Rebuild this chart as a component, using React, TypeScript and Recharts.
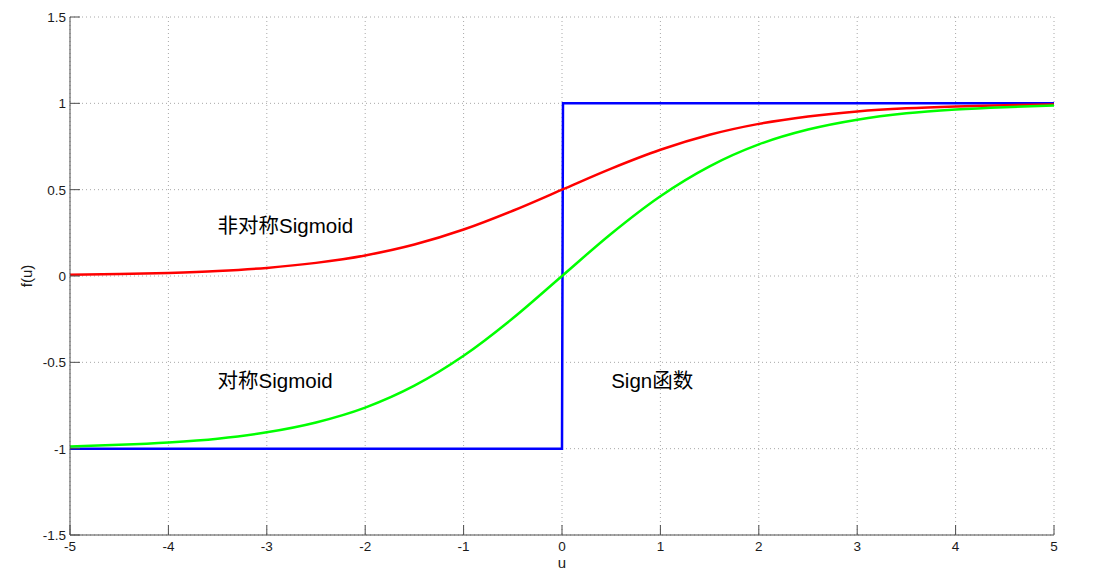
import { LineChart, Line, XAxis, YAxis, CartesianGrid, ReferenceDot, Label } from "recharts";

const uTicks = [-5, -4, -3, -2, -1, 0, 1, 2, 3, 4, 5];
const fTicks = [-1.5, -1, -0.5, 0, 0.5, 1, 1.5];

const uSamples = [-5, -4.5, -4, -3.5, -3, -2.5, -2, -1.5, -1, -0.5, 0, 0.5, 1, 1.5, 2, 2.5, 3, 3.5, 4, 4.5, 5];
const asymSigmoid = [0.007, 0.011, 0.018, 0.029, 0.047, 0.076, 0.119, 0.182, 0.269, 0.378, 0.5, 0.622, 0.731, 0.818, 0.881, 0.924, 0.953, 0.971, 0.982, 0.989, 0.993];
const symSigmoid = [-0.987, -0.978, -0.964, -0.942, -0.905, -0.848, -0.762, -0.635, -0.462, -0.245, 0, 0.245, 0.462, 0.635, 0.762, 0.848, 0.905, 0.942, 0.964, 0.978, 0.987];

const signU = [-5, 0, 0.01, 5];
const signF = [-1, -1, 1, 1];

const notes = [
  { u: -3.5, f: 0.29, text: "非对称Sigmoid" },
  { u: -3.5, f: -0.61, text: "对称Sigmoid" },
  { u: 0.5, f: -0.61, text: "Sign函数" },
];

const FONT = "'Liberation Sans', Arial, 'Noto Sans CJK SC', sans-serif";
const AXIS = "#4d4d4d";

const redData = uSamples.map((u, i) => ({ u, f: asymSigmoid[i] }));
const greenData = uSamples.map((u, i) => ({ u, f: symSigmoid[i] }));
const blueData = signU.map((u, i) => ({ u, f: signF[i] }));

const BottomTick = ({ x, y, payload }: any) => (
  <g>
    <line x1={x} x2={x} y1={y} y2={y - 10} stroke={AXIS} />
    <text x={x} y={y + 16} textAnchor="middle" fontSize={13.5} fill="#1a1a1a" fontFamily={FONT}>
      {payload.value}
    </text>
  </g>
);

const LeftTick = ({ x, y, payload }: any) => (
  <g>
    <line x1={x} x2={x + 10} y1={y} y2={y} stroke={AXIS} />
    <text x={x - 4} y={y + 5} textAnchor="end" fontSize={13.5} fill="#1a1a1a" fontFamily={FONT}>
      {payload.value}
    </text>
  </g>
);

const TopTick = ({ x, y }: any) => <line x1={x} x2={x} y1={y} y2={y + 10} stroke={AXIS} />;
const RightTick = ({ x, y }: any) => <line x1={x} x2={x - 10} y1={y} y2={y} stroke={AXIS} />;

export default function App() {
  return (
    <div style={{ position: "absolute", left: 0, top: 0, width: 1117, height: 578, background: "#fff" }}>
      <LineChart width={1117} height={578} margin={{ top: 17, right: 63, bottom: 0, left: 0 }}>
        <CartesianGrid stroke="#a8a8a8" strokeDasharray="1 3" />
        <XAxis
          type="number"
          dataKey="u"
          domain={[-5, 5]}
          ticks={uTicks}
          height={43}
          tickSize={0}
          tickMargin={0}
          tickLine={false}
          tick={BottomTick}
          axisLine={{ stroke: AXIS }}
          allowDataOverflow
        >
          <Label value="u" position="insideBottom" offset={10} style={{ fontSize: 15, fill: "#1a1a1a", fontFamily: FONT }} />
        </XAxis>
        <XAxis
          xAxisId="top"
          orientation="top"
          type="number"
          domain={[-5, 5]}
          ticks={uTicks}
          height={0}
          tickSize={0}
          tickLine={false}
          tick={TopTick}
          axisLine={{ stroke: AXIS }}
        />
        <YAxis
          type="number"
          domain={[-1.5, 1.5]}
          ticks={fTicks}
          width={70}
          tickSize={0}
          tickMargin={0}
          tickLine={false}
          tick={LeftTick}
          axisLine={{ stroke: AXIS }}
          allowDataOverflow
        >
          <Label value="f(u)" angle={-90} position="insideLeft" offset={27} style={{ fontSize: 15, fill: "#1a1a1a", fontFamily: FONT, textAnchor: "middle" }} />
        </YAxis>
        <YAxis
          yAxisId="right"
          orientation="right"
          type="number"
          domain={[-1.5, 1.5]}
          ticks={fTicks}
          width={0}
          tickSize={0}
          tickLine={false}
          tick={RightTick}
          axisLine={{ stroke: AXIS }}
        />
        <Line data={blueData} dataKey="f" type="linear" stroke="#0000ff" strokeWidth={2.5} dot={false} isAnimationActive={false} />
        <Line data={redData} dataKey="f" type="monotone" stroke="#ff0000" strokeWidth={2.5} dot={false} isAnimationActive={false} />
        <Line data={greenData} dataKey="f" type="monotone" stroke="#00ff00" strokeWidth={2.5} dot={false} isAnimationActive={false} />
        {notes.map((n) => (
          <ReferenceDot
            key={n.text}
            x={n.u}
            y={n.f}
            r={0}
            ifOverflow="visible"
            shape={(p: any) => (
              <text x={p.cx} y={p.cy} dy={7} fontSize={20.5} fill="#000" fontFamily={FONT}>
                {n.text}
              </text>
            )}
          />
        ))}
      </LineChart>
    </div>
  );
}
